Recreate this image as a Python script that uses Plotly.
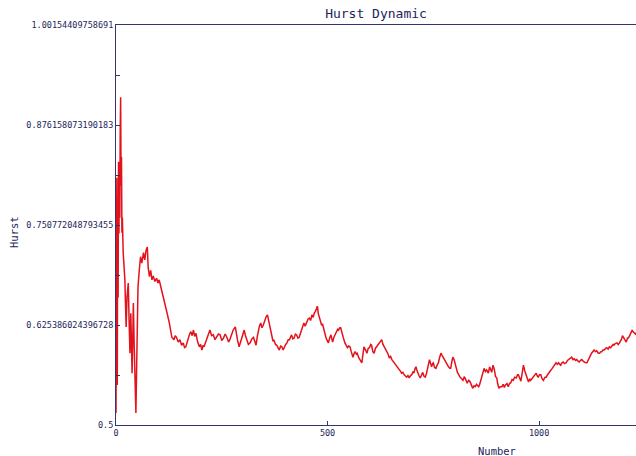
import plotly.graph_objects as go

# Hurst exponent estimate as a function of sample number
number = [
    0, 1, 2, 3, 4, 5, 6, 7, 8, 9, 10, 11, 12, 13, 14, 15, 17, 19, 21, 22, 24, 26, 29, 31, 33, 35, 36, 38, 40, 41,
    43, 45, 47, 49, 52, 55, 58, 61, 65, 68, 71, 74, 76, 79, 82, 85, 88, 92, 96, 99, 102, 106, 112, 116, 120, 126,
    132, 137, 140, 143, 147, 151, 155, 159, 162, 165, 168, 171, 174, 177, 180, 183, 186, 189, 193, 197, 200, 203,
    206, 208, 211, 214, 218, 222, 226, 230, 234, 238, 242, 246, 250, 254, 258, 262, 266, 269, 273, 277, 282, 285,
    287, 291, 294, 297, 300, 303, 306, 309, 313, 317, 321, 325, 328, 331, 334, 336, 339, 342, 345, 348, 351, 355,
    358, 362, 365, 368, 371, 373, 377, 380, 383, 386, 389, 392, 395, 397, 401, 404, 407, 410, 413, 415, 418, 421,
    424, 427, 430, 433, 436, 439, 442, 444, 447, 451, 454, 457, 460, 463, 466, 469, 471, 474, 476, 478, 481, 484,
    486, 488, 490, 493, 496, 499, 502, 505, 508, 510, 512, 515, 518, 521, 524, 526, 529, 531, 534, 537, 541, 544,
    547, 550, 553, 556, 560, 563, 565, 568, 570, 574, 577, 581, 584, 586, 590, 593, 596, 599, 602, 604, 607, 610,
    613, 616, 619, 622, 625, 628, 631, 634, 637, 640, 643, 646, 649, 652, 655, 657, 661, 664, 667, 670, 673, 675,
    678, 681, 684, 687, 690, 693, 696, 699, 702, 704, 707, 709, 711, 713, 716, 719, 722, 725, 728, 731, 734, 736,
    739, 741, 744, 746, 748, 750, 753, 756, 759, 762, 765, 768, 771, 774, 777, 780, 783, 786, 789, 791, 794, 796,
    799, 801, 804, 807, 810, 813, 817, 820, 823, 825, 828, 830, 834, 837, 840, 843, 846, 849, 852, 854, 857, 859,
    862, 865, 868, 870, 873, 876, 880, 883, 886, 888, 891, 894, 897, 900, 902, 905, 908, 912, 915, 918, 920, 924,
    927, 930, 933, 936, 939, 942, 946, 949, 951, 954, 957, 960, 963, 966, 969, 972, 975, 978, 980, 983, 986, 990,
    993, 996, 998, 1001, 1004, 1007, 1010, 1014, 1017, 1020, 1022, 1025, 1028, 1031, 1034, 1037, 1040, 1043, 1046,
    1049, 1051, 1054, 1057, 1060, 1064, 1067, 1069, 1073, 1077, 1080, 1083, 1086, 1089, 1092, 1095, 1098, 1101,
    1104, 1106, 1110, 1113, 1116, 1119, 1122, 1124, 1127, 1130, 1133, 1136, 1140, 1143, 1146, 1148, 1151, 1154,
    1157, 1160, 1163, 1166, 1169, 1172, 1175, 1177, 1180, 1184, 1187, 1190, 1193, 1195, 1197, 1199, 1202, 1206,
    1209, 1211, 1214, 1217, 1220, 1222, 1225, 1228, 1230,
]

hurst = [
    0.515, 0.63, 0.81, 0.55, 0.78, 0.66, 0.83, 0.74, 0.82, 0.76, 0.87, 0.911, 0.80, 0.836, 0.741, 0.76, 0.716,
    0.70, 0.682, 0.66, 0.623, 0.66, 0.678, 0.63, 0.590, 0.640, 0.60, 0.565, 0.62, 0.653,
    0.60, 0.544, 0.515, 0.578, 0.673, 0.694, 0.711, 0.703, 0.716, 0.707, 0.719, 0.723, 0.698, 0.686, 0.694, 0.682,
    0.687, 0.680, 0.684, 0.678, 0.682, 0.673, 0.661, 0.650, 0.642, 0.628,
    0.610, 0.607, 0.612, 0.610, 0.604, 0.607, 0.600, 0.603, 0.597, 0.598, 0.604, 0.610, 0.614, 0.617, 0.612, 0.619,
    0.611, 0.615, 0.604, 0.598, 0.601, 0.594,
    0.600, 0.598, 0.603, 0.607, 0.614, 0.619, 0.612, 0.613, 0.607, 0.610, 0.614, 0.613, 0.606, 0.609, 0.614, 0.610,
    0.604, 0.607, 0.613, 0.619, 0.623, 0.612,
    0.607, 0.598, 0.604, 0.610, 0.614, 0.619, 0.612, 0.607, 0.601, 0.603, 0.608, 0.610, 0.604, 0.600, 0.611, 0.619,
    0.624, 0.628, 0.622, 0.625, 0.631, 0.636,
    0.638, 0.628, 0.618, 0.610, 0.605, 0.607, 0.601, 0.600, 0.596, 0.594, 0.599, 0.598, 0.594, 0.597, 0.601, 0.603,
    0.607, 0.607, 0.611, 0.613, 0.608, 0.609,
    0.614, 0.613, 0.609, 0.610, 0.615, 0.619, 0.625, 0.628, 0.624, 0.629, 0.633, 0.634, 0.631, 0.638, 0.635, 0.641,
    0.642, 0.646, 0.649, 0.640, 0.635, 0.628,
    0.625, 0.627, 0.622, 0.615, 0.610, 0.606, 0.603, 0.609, 0.613, 0.608, 0.604, 0.610, 0.613, 0.616, 0.620, 0.619,
    0.622, 0.622, 0.614, 0.610, 0.603, 0.600,
    0.597, 0.599, 0.598, 0.592, 0.585, 0.590, 0.592, 0.589, 0.590, 0.584, 0.582, 0.578, 0.590, 0.598, 0.594, 0.590,
    0.596, 0.597, 0.601, 0.600, 0.592, 0.590,
    0.596, 0.598, 0.601, 0.603, 0.605, 0.607, 0.601, 0.598, 0.596, 0.592, 0.589, 0.584, 0.586, 0.582, 0.580, 0.578,
    0.576, 0.573, 0.572, 0.569, 0.567, 0.565,
    0.566, 0.563, 0.562, 0.560, 0.562, 0.559, 0.562, 0.563, 0.567, 0.565, 0.571, 0.573, 0.569, 0.565, 0.562, 0.559,
    0.563, 0.566, 0.561, 0.560, 0.565, 0.569,
    0.576, 0.582, 0.576, 0.573, 0.577, 0.578, 0.572, 0.571, 0.575, 0.578, 0.585, 0.590, 0.587, 0.584, 0.581, 0.579,
    0.576, 0.573, 0.571, 0.571, 0.580, 0.585,
    0.582, 0.579, 0.572, 0.566, 0.563, 0.560, 0.558, 0.556, 0.560, 0.559, 0.555, 0.553, 0.556, 0.554, 0.550, 0.546,
    0.549, 0.548, 0.551, 0.550, 0.548, 0.550,
    0.555, 0.560, 0.566, 0.571, 0.567, 0.569, 0.565, 0.573, 0.569, 0.566, 0.575, 0.570, 0.561, 0.559, 0.552, 0.546,
    0.548, 0.548, 0.551, 0.547, 0.550, 0.552,
    0.548, 0.552, 0.553, 0.557, 0.556, 0.560, 0.559, 0.563, 0.563, 0.558, 0.555, 0.565, 0.575, 0.568, 0.563, 0.558,
    0.554, 0.558, 0.556, 0.558, 0.560, 0.563,
    0.565, 0.561, 0.560, 0.563, 0.563, 0.558, 0.556, 0.560, 0.560, 0.563, 0.565, 0.568, 0.569, 0.571, 0.573, 0.575,
    0.578, 0.576, 0.578,
    0.576, 0.575, 0.578, 0.579, 0.577, 0.578, 0.581, 0.582, 0.583, 0.585, 0.582, 0.583, 0.581, 0.582, 0.580, 0.579,
    0.581, 0.582,
    0.580, 0.579, 0.578, 0.578, 0.582, 0.584, 0.588, 0.590, 0.592, 0.594, 0.592, 0.593, 0.590, 0.590, 0.592, 0.592,
    0.594, 0.594,
    0.596, 0.597, 0.595, 0.598, 0.597, 0.599, 0.601, 0.600, 0.602, 0.603, 0.601, 0.603, 0.606, 0.608, 0.612, 0.610,
    0.606, 0.604,
    0.609, 0.609, 0.612, 0.615, 0.619, 0.617, 0.615, 0.614, 0.616,
]

y_ticks = [0.5, 0.625386024396728, 0.750772048793455, 0.876158073190183, 1.00154409758691]
y_tick_text = ["0.5", "0.625386024396728", "0.750772048793455", "0.876158073190183", "1.00154409758691"]
x_ticks = [0, 500, 1000]
x_tick_text = ["0", "500", "1000"]

AXIS = "#34346e"
TEXT = "#1e1e5a"
MONO = "DejaVu Sans Mono"

y_minor = [(a + b) / 2 for a, b in zip(y_ticks[:-1], y_ticks[1:])]

fig = go.Figure(
    go.Scatter(
        x=number,
        y=hurst,
        mode="lines",
        line=dict(color="#e3121b", width=1.5),
        hoverinfo="skip",
    )
)

fig.update_layout(
    width=636,
    height=456,
    margin=dict(l=116, r=0, t=25, b=31),
    paper_bgcolor="white",
    plot_bgcolor="white",
    showlegend=False,
    title=dict(
        text="Hurst Dynamic",
        x=(376 / 636),
        xanchor="center",
        y=1 - 13 / 456,
        yanchor="middle",
        font=dict(family=MONO, size=13, color=TEXT),
    ),
)

fig.update_xaxes(
    range=[0, 1229],
    tickmode="array",
    tickvals=x_ticks,
    ticktext=x_tick_text,
    ticks="inside",
    ticklen=4,
    tickcolor=AXIS,
    tickfont=dict(family=MONO, size=8.5, color=TEXT),
    showgrid=False,
    zeroline=False,
    showline=True,
    linecolor=AXIS,
    linewidth=1,
    mirror=True,
)

fig.update_yaxes(
    range=[0.5, 1.00154409758691],
    tickmode="array",
    tickvals=y_ticks,
    ticktext=y_tick_text,
    ticks="inside",
    ticklen=4,
    tickcolor=AXIS,
    tickfont=dict(family=MONO, size=8.5, color=TEXT),
    minor=dict(tickmode="array", tickvals=y_minor, ticks="inside", ticklen=4, tickcolor=AXIS, showgrid=False),
    showgrid=False,
    zeroline=False,
    showline=True,
    linecolor=AXIS,
    linewidth=1,
)

fig.add_annotation(
    text="Hurst", xref="paper", yref="paper", x=(14 - 116) / 520, y=(425 - 232) / 400,
    xanchor="center", yanchor="middle",
    textangle=-90, showarrow=False, font=dict(family=MONO, size=10.5, color=TEXT),
)
fig.add_annotation(
    text="Number", xref="paper", yref="paper", x=(497 - 116) / 520, y=-(451 - 425) / 400,
    xanchor="center", yanchor="middle",
    showarrow=False, font=dict(family=MONO, size=10.5, color=TEXT),
)

fig.write_html("out.html")
